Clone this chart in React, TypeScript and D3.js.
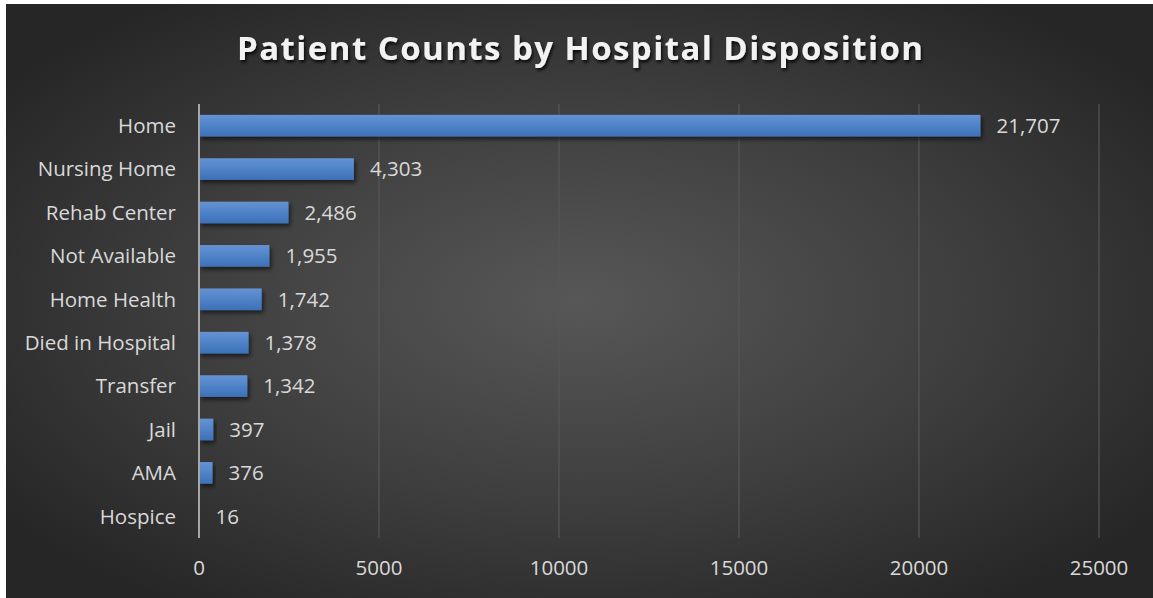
import React from "react";
import * as d3 from "d3";

const categories = ["Home", "Nursing Home", "Rehab Center", "Not Available", "Home Health", "Died in Hospital", "Transfer", "Jail", "AMA", "Hospice"];
const counts = [21707, 4303, 2486, 1955, 1742, 1378, 1342, 397, 376, 16];
const xTicks = [0, 5000, 10000, 15000, 20000, 25000];
const title = "Patient Counts by Hospital Disposition";

const W = 1153;
const H = 598;
const FONT = "'Open Sans', 'DejaVu Sans', sans-serif";
const FS = 20.5;

export default function App() {
  const x = d3.scaleLinear().domain([0, 25000]).range([199, 1099]);
  const y = d3.scaleBand<string>().domain(categories).range([104, 538]).paddingInner(0.5).paddingOuter(0.25);
  const fmt = d3.format(",");

  return (
    <svg width={W} height={H} style={{ position: "absolute", left: 0, top: 0 }}>
      <defs>
        <radialGradient id="bg" cx="0.5" cy="0.5" r="0.62" gradientUnits="objectBoundingBox">
          <stop offset="0" stopColor="#575757" />
          <stop offset="0.55" stopColor="#3e3e3e" />
          <stop offset="1" stopColor="#262626" />
        </radialGradient>
        <linearGradient id="bar" x1="0" y1="0" x2="0" y2="1">
          <stop offset="0" stopColor="#6593d2" />
          <stop offset="0.5" stopColor="#4f83c8" />
          <stop offset="1" stopColor="#3d70b6" />
        </linearGradient>
        <filter id="shadow" x="-10%" y="-30%" width="130%" height="180%">
          <feDropShadow dx="2" dy="3" stdDeviation="2" floodColor="#000" floodOpacity="0.55" />
        </filter>
        <filter id="tshadow" x="-5%" y="-30%" width="110%" height="170%">
          <feDropShadow dx="1.5" dy="2.5" stdDeviation="1.5" floodColor="#000" floodOpacity="0.8" />
        </filter>
      </defs>
      <rect x={0} y={0} width={W} height={H} fill="#ffffff" />
      <rect x={6} y={4} width={W - 6} height={H - 4} fill="url(#bg)" />

      <text
        x={580}
        y={60}
        textAnchor="middle"
        fontFamily={FONT}
        fontWeight={700}
        fontSize={33}
        fill="#f2f2f2"
        filter="url(#tshadow)"
        textLength={686}
        lengthAdjust="spacing"
      >
        {title}
      </text>

      {xTicks.slice(1).map((t) => (
        <line key={"g" + t} x1={x(t)} x2={x(t)} y1={104} y2={538} stroke="#575757" strokeWidth={1.2} />
      ))}

      {categories.map((c, i) => (
        <rect
          key={"b" + c}
          x={x(0)}
          y={y(c)!}
          width={x(counts[i]) - x(0)}
          height={y.bandwidth()}
          fill="url(#bar)"
          filter="url(#shadow)"
        />
      ))}

      <line x1={x(0)} x2={x(0)} y1={104} y2={538} stroke="#a6a6a6" strokeWidth={2} />

      {categories.map((c) => (
        <text
          key={"c" + c}
          x={176}
          y={y(c)! + y.bandwidth() / 2}
          dy="0.36em"
          textAnchor="end"
          fontFamily={FONT}
          fontSize={FS}
          fill="#d9d9d9"
        >
          {c}
        </text>
      ))}

      {categories.map((c, i) => (
        <text
          key={"v" + c}
          x={x(counts[i]) + 16}
          y={y(c)! + y.bandwidth() / 2}
          dy="0.36em"
          textAnchor="start"
          fontFamily={FONT}
          fontSize={FS}
          fill="#d9d9d9"
        >
          {fmt(counts[i])}
        </text>
      ))}

      {xTicks.map((t) => (
        <text
          key={"t" + t}
          x={x(t)}
          y={568}
          dy="0.36em"
          textAnchor="middle"
          fontFamily={FONT}
          fontSize={FS}
          fill="#d9d9d9"
        >
          {t}
        </text>
      ))}
    </svg>
  );
}
